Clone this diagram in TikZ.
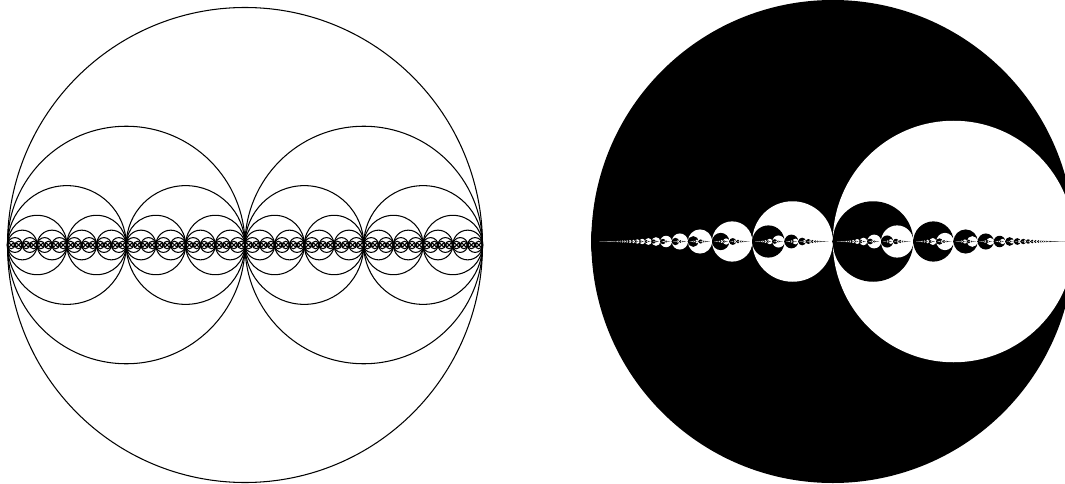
\documentclass[tikz,border=0pt]{standalone}
\newcommand\sbX{591.3}% left end of right disk diameter
\newcommand\sbY{241.5}
\newcommand\sbW{483}% diameter
\newcommand\sbN{60}
\newcommand\sbcirc[5]{%
  \pgfmathsetmacro\sbx{\sbX+\sbW*((#1)/(#2)+(#3)/(#4))/2}%
  \pgfmathsetmacro\sbr{\sbW/(2*(#2)*(#4))}%
  \fill[#5] (\sbx,\sbY) circle[radius=\sbr pt];%
}
\def\sbrec#1#2#3#4{%
  \ifnum\numexpr#2+#4\relax>\sbN\relax\else
    \begingroup
      \edef\sbp{\the\numexpr#1+#3\relax}%
      \edef\sbq{\the\numexpr#2+#4\relax}%
      \sbcirc{#1}{#2}{\sbp}{\sbq}{black}%
      \sbcirc{\sbp}{\sbq}{#3}{#4}{white}%
      \edef\sbnext{\noexpand\sbrec{#1}{#2}{\sbp}{\sbq}\noexpand\sbrec{\sbp}{\sbq}{#3}{#4}}%
    \expandafter\endgroup\sbnext
  \fi}
\tikzset{ring/.style={draw=black,line width=1.05pt}}
\begin{document}
\begin{tikzpicture}[x=1pt,y=-1pt]
\useasboundingbox (0,0) rectangle (1065,484);
\fill[white] (0,0) rectangle (1065,484);
% left figure: dyadic circles
\foreach \k in {0,...,7}{%
  \pgfmathsetmacro\rr{237.5/2^\k}%
  \pgfmathtruncatemacro\nn{2^\k-1}%
  \foreach \i in {0,...,\nn}{%
    \draw[ring] ({7.5+\rr*(2*\i+1)},245) circle[radius=\rr pt];
  }%
}
% right figure: Stern-Brocot circles
\begin{scope}
\clip (0,0) rectangle (1065,484);
\pgfmathsetmacro\sbR{\sbW/2}
\pgfmathsetmacro\sbC{\sbX+\sbW/2}
\fill[black] (\sbC,\sbY) circle[radius=\sbR pt];
\sbrec{0}{1}{1}{1}
\end{scope}
\end{tikzpicture}
\end{document}
